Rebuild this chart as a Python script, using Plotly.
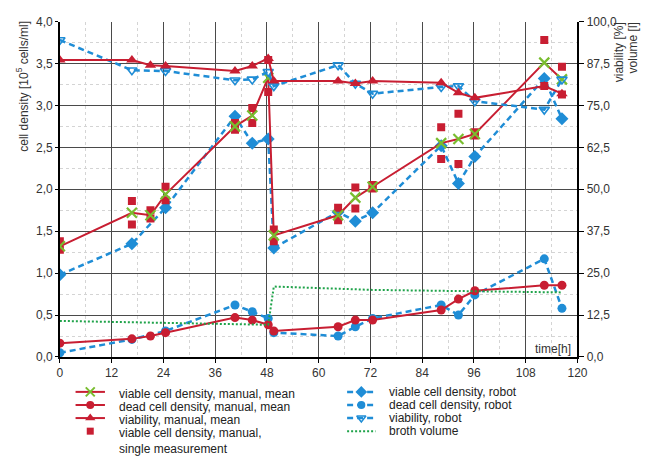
import plotly.graph_objects as go

# ---- data -------------------------------------------------------------
# sampling times [h]
t_manual = [0, 16.7, 21.0, 24.5, 40.6, 44.6, 48.3, 49.6, 64.5, 68.5, 72.5, 88.4, 92.4, 96.2, 112.3, 116.4]
t_robot = [0, 16.7, 24.5, 40.6, 44.6, 48.3, 49.6, 64.5, 68.5, 72.5, 88.4, 92.4, 96.2, 112.3, 116.4]
t_robot_dead = [0, 16.7, 24.5, 40.6, 44.6, 48.3, 49.6, 64.5, 68.5, 72.5, 88.4, 92.4, 96.2, 112.3, 116.4]
t_volume = [0, 48.3, 49.6, 72.5, 116.4]

# manual counts [10^5 cells/ml]
vcd_single_a = [1.38, 1.86, 1.75, 2.03, 2.79, 2.97, 3.54, 1.52, 1.78, 2.02, 2.05, 2.74, 2.90, 2.68, 3.78, 3.46]
vcd_single_b = [1.28, 1.58, 1.65, 1.87, 2.71, 2.79, 3.16, 1.38, 1.63, 1.77, 2.01, 2.36, 2.30, 2.64, 3.23, 3.13]
vcd_manual_mean = [1.32, 1.72, 1.69, 1.94, 2.75, 2.88, 3.33, 1.45, 1.69, 1.90, 2.03, 2.55, 2.60, 2.66, 3.51, 3.31]
dcd_manual_mean = [0.165, 0.216, 0.25, 0.29, 0.47, 0.44, 0.385, 0.31, 0.36, 0.44, 0.44, 0.56, 0.69, 0.79, 0.855, 0.855]
# manual viability [%]
via_manual_mean = [88.5, 88.5, 87.0, 86.75, 85.25, 86.75, 89.0, 82.25, 82.25, 81.5, 82.25, 81.75, 78.75, 77.25, 80.75, 78.5]

# robot measurements
vcd_robot = [0.98, 1.35, 1.78, 2.87, 2.55, 2.60, 1.30, 1.73, 1.62, 1.72, 2.52, 2.07, 2.39, 3.32, 2.84]
dcd_robot = [0.05, 0.21, 0.31, 0.62, 0.54, 0.46, 0.29, 0.25, 0.36, 0.46, 0.62, 0.50, 0.74, 1.17, 0.58]
via_robot = [94.5, 85.5, 85.25, 82.5, 82.75, 85.0, 80.75, 87.0, 81.5, 78.5, 80.5, 80.75, 76.25, 73.75, 82.75]

# broth volume [l]
broth_volume = [10.75, 9.6, 21.0, 20.0, 19.25]

# axis ticks
x_ticks = list(range(0, 121, 12))

# ---- styling ----------------------------------------------------------
RED = "#c81e32"
BLUE = "#1f8dd6"
LIME = "#79bd2f"
GREEN = "#1fa34a"
GRID = "#4a4a4a"
TXT = "#333333"
FONT = "Liberation Sans, Arial, sans-serif"
W, H = 662, 459

# plot area in page pixels
PL, PR, PT, PB = 58, 586, 15, 361

BLUE_DASH = "6px,4px"
GREEN_DOT = "2px,2px"

fig = go.Figure()

# broth volume (right axis)
fig.add_trace(go.Scatter(x=t_volume, y=broth_volume, yaxis="y2", mode="lines",
                         line=dict(color=GREEN, width=2, dash=GREEN_DOT)))

# robot series
fig.add_trace(go.Scatter(x=t_robot, y=via_robot, yaxis="y2", mode="lines+markers",
                         line=dict(color=BLUE, width=2.5, dash=BLUE_DASH),
                         marker=dict(symbol="triangle-down-open", size=9, color=BLUE,
                                     line=dict(width=1.6, color=BLUE))))
fig.add_trace(go.Scatter(x=t_robot, y=vcd_robot, mode="lines+markers",
                         line=dict(color=BLUE, width=2.5, dash=BLUE_DASH),
                         marker=dict(symbol="diamond", size=10, color=BLUE)))
fig.add_trace(go.Scatter(x=t_robot_dead, y=dcd_robot, mode="lines+markers",
                         line=dict(color=BLUE, width=2.5, dash=BLUE_DASH),
                         marker=dict(symbol="circle", size=9, color=BLUE)))

# manual single measurements
for vals in (vcd_single_a, vcd_single_b):
    fig.add_trace(go.Scatter(x=t_manual, y=vals, mode="markers",
                             marker=dict(symbol="square", size=8, color=RED)))

# manual means
fig.add_trace(go.Scatter(x=t_manual, y=via_manual_mean, yaxis="y2", mode="lines+markers",
                         line=dict(color=RED, width=2),
                         marker=dict(symbol="triangle-up", size=10, color=RED)))
fig.add_trace(go.Scatter(x=t_manual, y=dcd_manual_mean, mode="lines+markers",
                         line=dict(color=RED, width=2),
                         marker=dict(symbol="circle", size=9, color=RED)))
fig.add_trace(go.Scatter(x=t_manual, y=vcd_manual_mean, mode="lines+markers",
                         line=dict(color=RED, width=2),
                         marker=dict(symbol="x-thin", size=10, color=LIME,
                                     line=dict(width=2.2, color=LIME))))

# ---- legend, drawn on a page-pixel overlay axis ---------------------
legend_left = [
    ("viable cell density, manual, mean", "line", dict(symbol="x-thin", size=9, color=LIME, line=dict(width=2, color=LIME))),
    ("dead cell density, manual, mean", "line", dict(symbol="circle", size=8, color=RED)),
    ("viability, manual, mean", "line", dict(symbol="triangle-up", size=9, color=RED)),
    ("viable cell density, manual,<br>single measurement", None, dict(symbol="square", size=7, color=RED)),
]
legend_right = [
    ("viable cell density, robot", dict(color=BLUE, width=2.5, dash=BLUE_DASH), dict(symbol="diamond", size=9, color=BLUE)),
    ("dead cell density, robot", dict(color=BLUE, width=2.5, dash=BLUE_DASH), dict(symbol="circle", size=8, color=BLUE)),
    ("viability, robot", dict(color=BLUE, width=2.5, dash=BLUE_DASH), dict(symbol="triangle-down-open", size=8, color=BLUE, line=dict(width=1.5, color=BLUE))),
    ("broth volume", dict(color=GREEN, width=2, dash=GREEN_DOT), None),
]
row_y = [397, 410.5, 424, 437.5]

annotations = []
for (label, kind, mk), y in zip(legend_left, row_y):
    if kind == "line":
        fig.add_trace(go.Scatter(x=[74, 104], y=[y, y], xaxis="x3", yaxis="y3", mode="lines",
                                 line=dict(color=RED, width=2), hoverinfo="skip"))
    fig.add_trace(go.Scatter(x=[89], y=[y], xaxis="x3", yaxis="y3", mode="markers",
                             marker=mk, hoverinfo="skip"))
    annotations.append(dict(x=116, y=y - 7, xref="x3", yref="y3", text=label, showarrow=False,
                            xanchor="left", yanchor="top", align="left",
                            font=dict(size=12, color="#222")))
for (label, ln, mk), y in zip(legend_right, row_y):
    fig.add_trace(go.Scatter(x=[351, 380], y=[y, y], xaxis="x3", yaxis="y3", mode="lines",
                             line=ln, hoverinfo="skip"))
    if mk is not None:
        fig.add_trace(go.Scatter(x=[365.5], y=[y], xaxis="x3", yaxis="y3", mode="markers",
                                 marker=mk, hoverinfo="skip"))
    annotations.append(dict(x=392, y=y, xref="x3", yref="y3", text=label, showarrow=False,
                            xanchor="left", yanchor="middle", align="left",
                            font=dict(size=12, color="#222")))

# axis titles and time label
annotations += [
    dict(x=20, y=12, xref="x3", yref="y3", text="cell density [10<sup>5</sup> cells/ml]",
         textangle=-90, showarrow=False, xanchor="center", yanchor="top",
         font=dict(size=12, color=TXT)),
    dict(x=628, y=14, xref="x3", yref="y3", text="viability [%]",
         textangle=-90, showarrow=False, xanchor="center", yanchor="top",
         font=dict(size=12, color=TXT)),
    dict(x=643, y=14, xref="x3", yref="y3", text="volume [l]",
         textangle=-90, showarrow=False, xanchor="center", yanchor="top",
         font=dict(size=12, color=TXT)),
    dict(x=581, y=353, xref="x3", yref="y3", text="time[h]", showarrow=False,
         xanchor="right", yanchor="middle", font=dict(size=12, color=TXT)),
]

minor_grid = dict(showgrid=True, gridcolor="#d4d4d4", griddash="dot", gridwidth=1, ticks="")

fig.update_layout(
    width=W, height=H, autosize=False,
    margin=dict(l=0, r=0, t=0, b=0, pad=0),
    paper_bgcolor="white", plot_bgcolor="rgba(0,0,0,0)",
    showlegend=False,
    separators=",.",
    font=dict(family=FONT, size=12, color=TXT),
    xaxis=dict(domain=[PL / W, PR / W], range=[0, 120], tickvals=x_ticks,
               showgrid=True, gridcolor=GRID, gridwidth=1, zeroline=False,
               showline=True, linecolor="black", linewidth=1.5,
               ticks="outside", ticklen=4, tickcolor="black",
               tickfont=dict(size=12, color=TXT), anchor="y",
               minor=dict(dtick=6, **minor_grid)),
    yaxis=dict(domain=[1 - PB / H, 1 - PT / H], range=[0, 4], dtick=0.5, tick0=0,
               tickformat=".1f", showgrid=True, gridcolor=GRID, gridwidth=1,
               zeroline=False, showline=True, linecolor="black", linewidth=1.5,
               ticks="outside", ticklen=3, tickcolor="black",
               tickfont=dict(size=12, color=TXT), anchor="x",
               minor=dict(dtick=0.25, **minor_grid)),
    yaxis2=dict(overlaying="y", side="right", range=[0, 100], dtick=12.5, tick0=0,
                tickformat=".1f", showgrid=False, zeroline=False,
                showline=True, linecolor="black", linewidth=1.5,
                ticks="outside", ticklen=5, tickcolor="black",
                tickfont=dict(size=12, color=TXT), anchor="x"),
    xaxis3=dict(domain=[0, 1], range=[0, W], visible=False, anchor="y3", fixedrange=True),
    yaxis3=dict(domain=[0, 1], range=[H, 0], visible=False, anchor="x3", fixedrange=True),
    annotations=annotations,
)

fig.write_html("out.html")
